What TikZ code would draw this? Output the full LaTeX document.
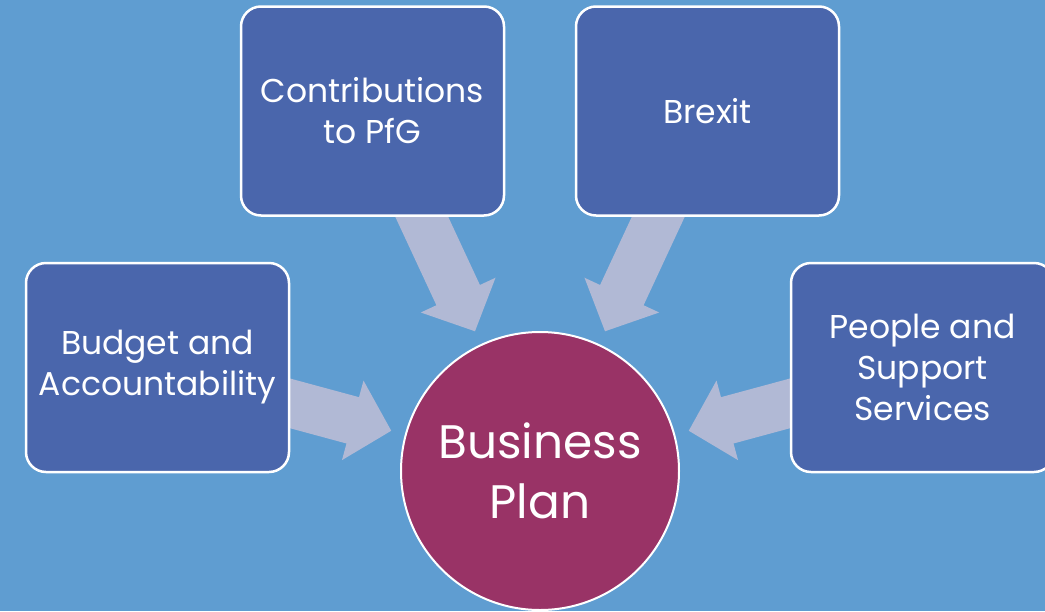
\documentclass[tikz,border=0pt]{standalone}
\usepackage{fontspec}
\setmainfont{Poppins}
\usetikzlibrary{arrows.meta}

\definecolor{slideblue}{HTML}{5F9DD1}
\definecolor{boxblue}{HTML}{4A66AC}
\definecolor{plum}{HTML}{993366}
\definecolor{feedgrey}{HTML}{B1B9D5}

% arrows sit under the boxes, the backdrop under everything
\pgfdeclarelayer{backdrop}
\pgfdeclarelayer{feeds}
\pgfsetlayers{backdrop,feeds,main}

\begin{document}
\begin{tikzpicture}[x=1pt, y=-1pt,
    topic/.style = {draw=white, line width=2.5pt, fill=boxblue, rounded corners=20pt,
      minimum width=263pt, minimum height=209pt, text=white, align=center,
      font=\fontsize{33}{41}\selectfont},
    feed/.style = {draw=feedgrey, line width=48pt, shorten >=14pt,
      -{Triangle[width=80pt,length=40pt]}}]
  \useasboundingbox (0,0) rectangle (1045,611);
  \begin{pgfonlayer}{backdrop}
    \fill[slideblue] (0,0) rectangle (1045,611);
  \end{pgfonlayer}

  \node[circle, draw=white, line width=2pt, fill=plum, minimum size=278pt,
        text=white, align=center, font=\fontsize{47}{60}\selectfont]
        (plan) at (540,471) {Business\\Plan};

  \node[topic] (budget)  at (157.5,367.5) {Budget and\\Accountability};
  \node[topic] (pfg)     at (372.5,111)   {Contributions\\to PfG};
  \node[topic] (brexit)  at (707.5,111)   {Brexit};
  \node[topic] (people)  at (922.5,367.5) {People and\\Support\\Services};

  \begin{pgfonlayer}{feeds}
    \draw[feed] (budget.center) -- (plan);
    \draw[feed] (pfg.center)    -- (plan);
    \draw[feed] (brexit.center) -- (plan);
    \draw[feed] (people.center) -- (plan);
  \end{pgfonlayer}
\end{tikzpicture}
\end{document}
